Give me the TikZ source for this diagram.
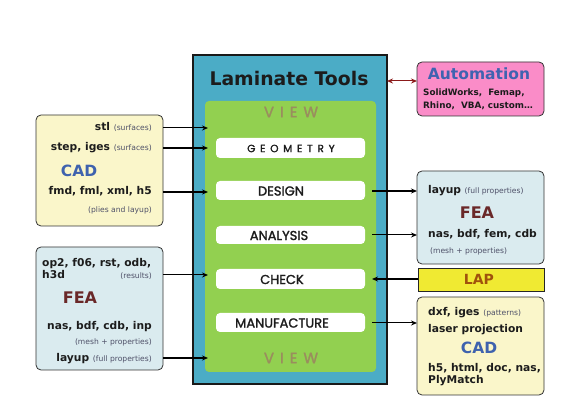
\documentclass[tikz,border=0pt]{standalone}
\usepackage{fontspec}
\setmainfont{DejaVu Sans}
\newfontfamily\popf{Poppins}[FakeBold=1.6]
\usetikzlibrary{arrows.meta}
\definecolor{blueC}{HTML}{4BACC6}
\definecolor{greenC}{HTML}{92D050}
\definecolor{viewC}{HTML}{9A8D5E}
\definecolor{cadC}{HTML}{FAF6CA}
\definecolor{feaC}{HTML}{DAEBEF}
\definecolor{pinkC}{HTML}{FA8CC8}
\definecolor{lapC}{HTML}{F0EA32}
\definecolor{lapT}{HTML}{A0520C}
\definecolor{cadT}{HTML}{3E62AE}
\definecolor{feaT}{HTML}{6A2828}
\definecolor{smallC}{HTML}{4E5068}
\definecolor{autoT}{HTML}{3F63B0}
\definecolor{redA}{HTML}{8B1A1A}
\definecolor{txtC}{HTML}{1C1C1C}
\newcommand{\bt}{\fontsize{10.7}{12}\selectfont\bfseries\color{txtC}}
\newcommand{\smt}[1]{{\fontsize{7.6}{9}\selectfont\mdseries\color{smallC}#1}}
\begin{document}
\begin{tikzpicture}[x=1pt,y=-1pt,
  boxbase/.style={anchor=north west, inner sep=0pt, outer sep=0pt},
  infobox/.style={boxbase, draw=black!80, line width=0.8pt, rounded corners=5pt},
  whitebox/.style={boxbase, fill=white, rounded corners=4pt, minimum width=149pt},
  rowtxt/.style={inner sep=0pt, font=\bt},
  steplbl/.style={inner sep=0pt, font=\popf\fontsize{13}{14}\selectfont\color{txtC}},
  viewlbl/.style={inner sep=0pt, font=\popf\addfontfeatures{LetterSpace=40}\fontsize{15}{16}\selectfont\color{viewC}},
  cadlbl/.style={inner sep=0pt, font=\fontsize{15.5}{17}\selectfont\bfseries\color{cadT}},
  fealbl/.style={inner sep=0pt, font=\fontsize{16}{17}\selectfont\bfseries\color{feaT}},
  thinarr/.style={line width=1pt, -{Stealth[length=6pt,width=5pt]}},
  thickarr/.style={line width=1.8pt, -{Stealth[length=6pt,width=5pt]}},
]
\useasboundingbox (0,0) rectangle (571,406);

% main boxes
\node[boxbase, draw=black!90, line width=1.1pt, fill=blueC, minimum width=194pt, minimum height=329pt] (blue) at (193,55) {};
\node[boxbase, fill=greenC, rounded corners=4pt, minimum width=171pt, minimum height=271pt] (green) at (205,101) {};
\node[font=\fontsize{18.8}{20}\selectfont\bfseries\color{txtC}, inner sep=0pt] (title) at (289,78) {Laminate Tools};
\node[viewlbl] (viewtop) at (291,112) {VIEW};
\node[viewlbl] (viewbot) at (291,358) {VIEW};

% step boxes
\node[whitebox, minimum height=20pt] (wgeo) at (216,138) {};
\node[whitebox, minimum height=19pt] (wdes) at (216,181) {};
\node[whitebox, minimum height=18pt] (wana) at (216,226) {};
\node[whitebox, minimum height=20pt] (wchk) at (216,269) {};
\node[whitebox, minimum height=19pt] (wman) at (216,313) {};
\node[inner sep=0pt, font=\popf\addfontfeatures{LetterSpace=45}\fontsize{10.5}{11}\selectfont\color{txtC}] (tgeo) at (291,148.5) {GEOMETRY};
\node[steplbl] (tdes) at (281,191) {DESIGN};
\node[steplbl] (tana) at (279,235.5) {ANALYSIS};
\node[steplbl] (tchk) at (282,279.5) {CHECK};
\node[steplbl] (tman) at (282,323) {MANUFACTURE};

% side boxes
\node[infobox, fill=cadC, minimum width=127pt, minimum height=111pt] (cadL) at (36,115) {};
\node[infobox, fill=feaC, minimum width=127pt, minimum height=123pt] (feaL) at (36,247) {};
\node[infobox, fill=pinkC, minimum width=127pt, minimum height=54pt] (auto) at (417,62) {};
\node[infobox, fill=feaC, minimum width=127pt, minimum height=93pt] (feaR) at (417,171) {};
\node[boxbase, draw=black!85, line width=0.9pt, fill=lapC, minimum width=126pt, minimum height=23pt] (lap) at (418,268) {};
\node[infobox, fill=cadC, minimum width=127pt, minimum height=98pt] (cadR) at (417,297) {};

% left CAD texts
\node[rowtxt, anchor=mid east] (l1) at (152,128) {stl \smt{(surfaces)}};
\node[rowtxt, anchor=mid east] (l2) at (152,148) {step, iges \smt{(surfaces)}};
\node[cadlbl] (cad1) at (79,171) {CAD};
\node[rowtxt, anchor=mid east] (l3) at (152,192) {fmd, fml, xml, h5};
\node[rowtxt, anchor=mid east] (l4) at (152,209.5) {\smt{(plies and layup)}};

% left FEA texts
\node[rowtxt, anchor=mid west] (f1) at (42,264) {op2, f06, rst, odb,};
\node[rowtxt, anchor=mid west] (f2) at (42,276) {h3d};
\node[rowtxt, anchor=mid east] (f3) at (152,276) {\smt{(results)}};
\node[fealbl] (fea1) at (80,298) {FEA};
\node[rowtxt, anchor=mid east] (f4) at (152,327) {nas, bdf, cdb, inp};
\node[rowtxt, anchor=mid east] (f5) at (152,342) {\smt{(mesh + properties)}};
\node[rowtxt, anchor=mid east] (f6) at (152,358.5) {layup \smt{(full properties)}};

% automation texts
\node[inner sep=0pt, font=\fontsize{15.5}{17}\selectfont\bfseries\color{autoT}] (autoT) at (479,74) {Automation};
\node[inner sep=0pt, anchor=mid west, font=\fontsize{8.8}{10}\selectfont\bfseries\color{txtC}] (a1) at (423,93) {SolidWorks,\ \ Femap,};
\node[inner sep=0pt, anchor=mid west, font=\fontsize{8.8}{10}\selectfont\bfseries\color{txtC}] (a2) at (423,105.5) {Rhino,\ \ VBA, custom…};

% right FEA texts
\node[rowtxt, anchor=mid west] (r1) at (428,191) {layup \smt{(full properties)}};
\node[fealbl] (fea2) at (477,213) {FEA};
\node[rowtxt, anchor=mid west] (r2) at (428,235) {nas, bdf, fem, cdb};
\node[rowtxt, anchor=mid west] (r3) at (430,251) {\smt{(mesh + properties)}};

% LAP
\node[inner sep=0pt, font=\fontsize{14}{15}\selectfont\bfseries\color{lapT}] (lapT) at (479,279.5) {LAP};

% right CAD texts
\node[rowtxt, anchor=mid west] (c1) at (428,313) {dxf, iges \smt{(patterns)}};
\node[rowtxt, anchor=mid west] (c2) at (428,330) {laser projection};
\node[cadlbl] (cad2) at (479,348) {CAD};
\node[rowtxt, anchor=mid west] (c3) at (428,369) {h5, html, doc, nas,};
\node[rowtxt, anchor=mid west] (c4) at (428,381) {PlyMatch};

% row coordinates
\coordinate (yA) at (0,128);
\coordinate (yB) at (0,148);
\coordinate (yC) at (0,192);
\coordinate (yD) at (0,275);
\coordinate (yE) at (0,358);
\coordinate (yF) at (0,191);
\coordinate (yG) at (0,235);
\coordinate (yH) at (0,279);
\coordinate (yI) at (0,323);
\coordinate (yJ) at (0,81);

% connectors left
\draw[thinarr] (cadL.east |- yA) -- ([xshift=3pt]green.west |- yA);
\draw[thickarr] (cadL.east |- yB) -- ([xshift=3pt]green.west |- yB);
\draw[thickarr] (cadL.east |- yC) -- ([xshift=3pt]green.west |- yC);
\draw[thinarr] (feaL.east |- yD) -- ([xshift=3pt]green.west |- yD);
\draw[thickarr] (feaL.east |- yE) -- ([xshift=3pt]green.west |- yE);

% connectors right
\draw[thickarr] ([xshift=-4pt]green.east |- yF) -- (feaR.west |- yF);
\draw[thinarr] ([xshift=-4pt]green.east |- yG) -- (feaR.west |- yG);
\draw[thickarr] (lap.west |- yH) -- ([xshift=-4pt]green.east |- yH);
\draw[thinarr] ([xshift=-4pt]green.east |- yI) -- (cadR.west |- yI);
\draw[redA, line width=1pt, {Stealth[length=6pt,width=5pt]}-{Stealth[length=6pt,width=5pt]}] (blue.east |- yJ) -- (auto.west |- yJ);
\end{tikzpicture}
\end{document}
